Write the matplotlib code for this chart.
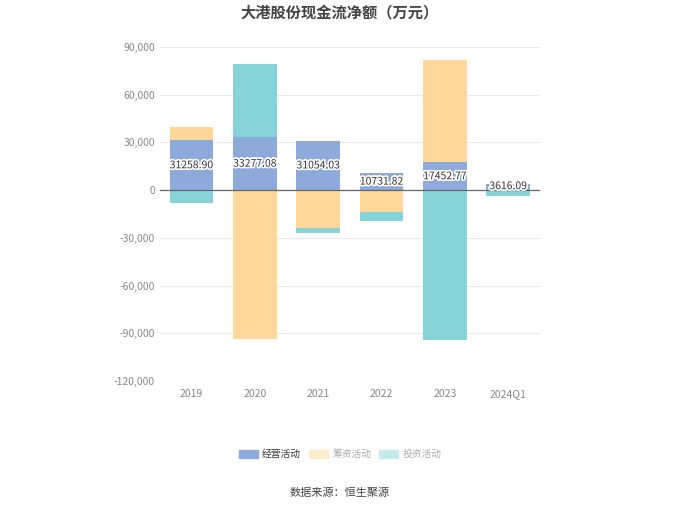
import numpy as np
import matplotlib
matplotlib.use("Agg")
import matplotlib.pyplot as plt
import matplotlib.patheffects as pe
from matplotlib.patches import Patch

plt.rcParams['font.family'] = ['Noto Sans CJK SC', 'DejaVu Sans']

years = ['2019', '2020', '2021', '2022', '2023', '2024Q1']
jingying = [31258.90, 33277.08, 31054.03, 10731.82, 17452.77, 3616.09]
chouzi = [8400, -93800, -24100, -14000, 64400, -200]
touzi = [-8200, 46000, -2800, -5300, -94000, -3600]
yticks = [-120000, -90000, -60000, -30000, 0, 30000, 60000, 90000]

c_blue = '#8DAADB'
c_orange = '#FED89B'
c_teal = '#86D4D8'

fig = plt.figure(figsize=(6.8, 5.09), dpi=100)
ax = fig.add_axes([0.235, 0.2515, 0.559, 0.6562])

x = np.arange(len(years))
w = 0.69
pos = np.zeros(len(years))
neg = np.zeros(len(years))
for vals, col in [(jingying, c_blue), (chouzi, c_orange), (touzi, c_teal)]:
    vals = np.array(vals, dtype=float)
    bottom = np.where(vals >= 0, pos, neg)
    ax.bar(x, vals, w, bottom=bottom, color=col, zorder=2)
    pos = pos + np.where(vals >= 0, vals, 0)
    neg = neg + np.where(vals < 0, vals, 0)

for i, v in enumerate(jingying):
    ax.text(x[i], max(v / 2, 2500), '%.2f' % v,
            ha='center', va='center', fontsize=7.5, color='#333333', zorder=4,
            path_effects=[pe.withStroke(linewidth=2.5, foreground='white')])

ax.axhline(0, color='#666666', lw=0.9, zorder=3)
ax.set_ylim(-120000, 90000)
ax.set_xlim(-0.5, len(years) - 0.5)
ax.set_yticks(yticks)
ax.set_yticklabels(['{:,}'.format(t) for t in yticks])
ax.set_xticks(x)
ax.set_xticklabels(years)
ax.grid(axis='y', color='#E9E9E9', lw=0.8, zorder=0)
for s in ax.spines.values():
    s.set_visible(False)
ax.tick_params(axis='both', length=0, labelsize=7.5, colors='#888888')
ax.tick_params(axis='x', pad=6)

fig.text(0.5, 0.975, '大港股份现金流净额（万元）', ha='center', va='center',
         fontsize=11, fontweight='bold', color='#444444')

handles = [Patch(color=c_blue), Patch(color='#FEEBCC'), Patch(color='#C4EAED')]
leg = fig.legend(handles, ['经营活动', '筹资活动', '投资活动'], loc='center',
                 bbox_to_anchor=(0.5, 0.108), ncol=3, frameon=False, fontsize=7,
                 handlelength=2.0, handleheight=0.9, columnspacing=0.8, handletextpad=0.4)
for t, c in zip(leg.get_texts(), ['#333333', '#AAAAAA', '#AAAAAA']):
    t.set_color(c)

fig.text(0.5, 0.031, '数据来源：恒生聚源', ha='center', va='center', fontsize=8, color='#444444')

fig.savefig('out.png', dpi=100)
